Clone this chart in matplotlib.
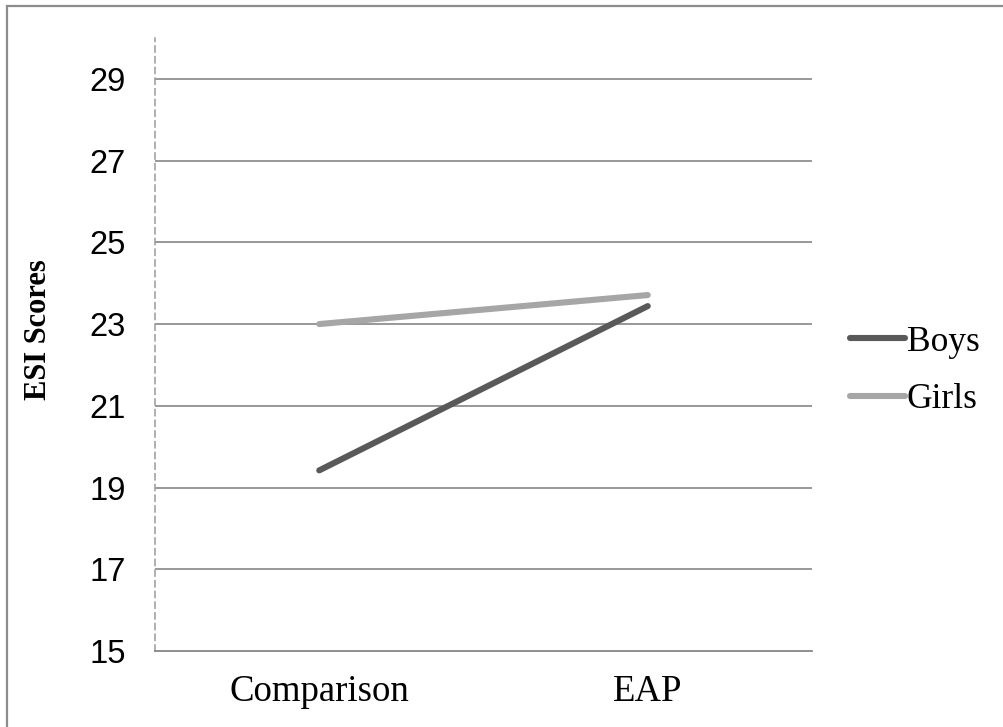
import matplotlib
matplotlib.use("Agg")
import matplotlib.pyplot as plt
from matplotlib.patches import Rectangle

groups = ["Comparison", "EAP"]
boys = [19.42, 23.44]
girls = [23.0, 23.71]
series_names = ["Boys", "Girls"]
y_ticks = [15, 17, 19, 21, 23, 25, 27, 29]

W, H = 1004, 727
fig = plt.figure(figsize=(W / 100, H / 100), dpi=100)
fig.patch.set_facecolor("white")

# outer chart frame (continues past the right and bottom edges)
fig.patches.append(Rectangle((6.5 / W, -0.05), 1.2, 1 - 6 / H + 0.05,
                             transform=fig.transFigure, fill=False,
                             edgecolor="#8c8c8c", linewidth=1.6))

ax = fig.add_axes([155 / W, 1 - 651 / H, (812 - 155) / W, (651 - 38) / H])
x = list(range(len(groups)))

grid_c = "#868686"
for v in y_ticks[1:]:
    ax.axhline(v, color=grid_c, linewidth=1.2, zorder=1)

ax.plot(x, boys, color="#595959", linewidth=4.4, solid_capstyle="round",
        label=series_names[0], zorder=3)
ax.plot(x, girls, color="#a6a6a6", linewidth=4.4, solid_capstyle="round",
        label=series_names[1], zorder=3)

ax.set_xlim(-0.5, 1.5)
ax.set_ylim(15, 30)
ax.set_yticks(y_ticks)
ax.set_yticklabels([str(v) for v in y_ticks], family="Liberation Sans", fontsize=23.5)
ax.set_xticks(x)
ax.set_xticklabels(groups, family="Liberation Serif", fontsize=26.5)
ax.tick_params(axis="y", length=0, pad=21)
ax.tick_params(axis="x", length=0, pad=17)

for s in ("top", "right"):
    ax.spines[s].set_visible(False)
ax.spines["left"].set_color("#9a9a9a")
ax.spines["left"].set_linestyle((0, (4, 3)))
ax.spines["left"].set_linewidth(1.1)
ax.spines["bottom"].set_color(grid_c)
ax.spines["bottom"].set_linewidth(1.3)

fig.text(39 / W, 1 - 330 / H, "ESI Scores", rotation=90, ha="center", va="center",
         family="Liberation Serif", fontweight="bold", fontsize=22)

leg = fig.legend(loc="center left", bbox_to_anchor=(850 / W, 1 - 371 / H),
                 frameon=False, borderpad=0, borderaxespad=0,
                 handlelength=1.55, handletextpad=0.05,
                 labelspacing=0.7, prop={"family": "Liberation Serif", "size": 25.5})

fig.savefig("out.png", dpi=100, facecolor="white")
